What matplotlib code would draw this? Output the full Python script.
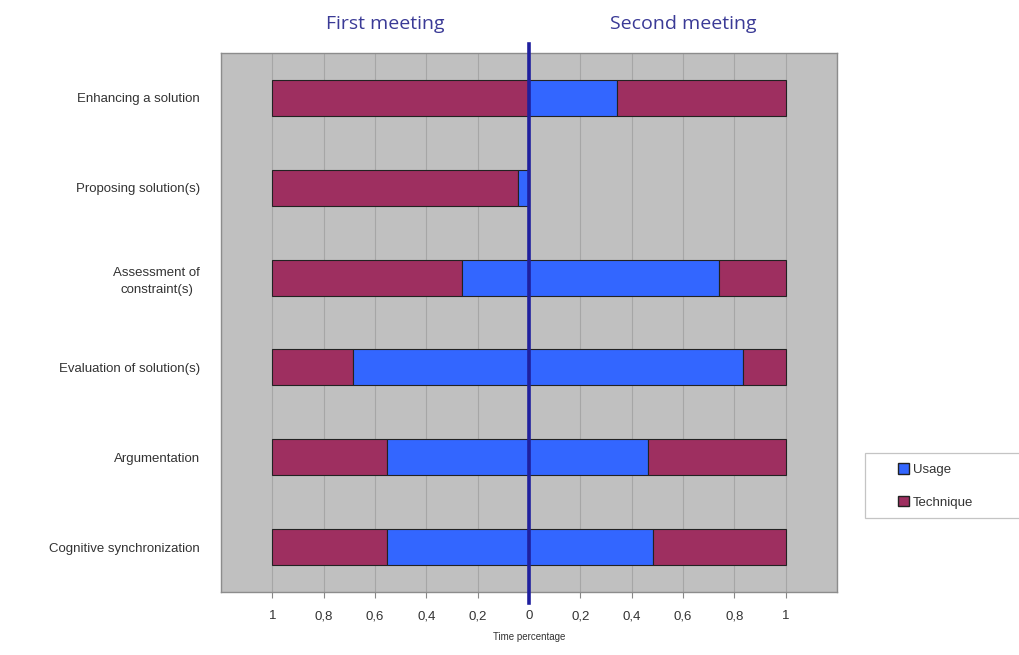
import numpy as np
import matplotlib.pyplot as plt
from matplotlib.patches import Patch, Rectangle

categories = ["Enhancing a solution", "Proposing solution(s)", "Assessment of\nconstraint(s)",
              "Evaluation of solution(s)", "Argumentation", "Cognitive synchronization"]
# share of usage time in each meeting (rest of the bar is technique)
usage_first = [0.0, 0.043, 0.26, 0.686, 0.554, 0.554]
usage_second = [0.343, 0.0, 0.74, 0.834, 0.464, 0.483]
has_second = [True, False, True, True, True, True]

tick_vals = [-1, -0.8, -0.6, -0.4, -0.2, 0, 0.2, 0.4, 0.6, 0.8, 1]
tick_labels = ["1", "0,8", "0,6", "0,4", "0,2", "0", "0,2", "0,4", "0,6", "0,8", "1"]

c_usage = "#3366ff"
c_tech = "#9e2f60"

plt.rcParams['font.family'] = ['Liberation Sans', 'DejaVu Sans']

fig = plt.figure(figsize=(10.19, 6.55), dpi=100)
ax = fig.add_axes([221 / 1019, 63 / 655, 616 / 1019, 539 / 655])
ax.set_facecolor("#c0c0c0")

y = np.arange(len(categories))
h = 0.40
uf = np.array(usage_first)
us = np.array(usage_second)
ec = "#222222"

# first meeting, drawn to the left of zero
ax.barh(y, -(1 - uf), left=-uf, height=h, color=c_tech, edgecolor=ec, linewidth=0.8, zorder=3)
ax.barh(y, -uf, left=0, height=h, color=c_usage, edgecolor=ec, linewidth=0.8, zorder=3)
# second meeting, to the right
for i in range(len(categories)):
    if not has_second[i]:
        continue
    ax.barh(y[i], us[i], left=0, height=h, color=c_usage, edgecolor=ec, linewidth=0.8, zorder=3)
    ax.barh(y[i], 1 - us[i], left=us[i], height=h, color=c_tech, edgecolor=ec, linewidth=0.8, zorder=3)

ax.set_xlim(-1.2, 1.2)
ax.set_ylim(len(categories) - 0.5, -0.5)
for gx in np.arange(-1.2, 1.21, 0.2):
    ax.axvline(gx, color="#a6a6a6", linewidth=0.8, zorder=1)

ax.set_xticks(tick_vals)
ax.set_xticklabels(tick_labels, fontsize=9.5, color="#333333")
ax.tick_params(axis="x", length=4, color="#888888", pad=9)
ax.set_yticks(y)
ax.set_yticklabels(categories, fontsize=9.5, color="#333333", multialignment="center", linespacing=1.6)
ax.tick_params(axis="y", length=0, pad=15)
for s in ax.spines.values():
    s.set_color("#8c8c8c")
    s.set_linewidth(1)

ax.set_xlabel("Time percentage", fontsize=7, color="#333333", labelpad=7)

# zero line sticking out of the plot
ax.axvline(0, ymin=-0.02, ymax=1.017, color="#1f1f9e", linewidth=2.6, zorder=5, clip_on=False)

fig.text(385 / 1019, 1 - 24 / 655, "First meeting", ha="center", va="center",
         fontsize=14, color="#3a3a96", family=["Open Sans", "DejaVu Sans"])
fig.text(683 / 1019, 1 - 24 / 655, "Second meeting", ha="center", va="center",
         fontsize=14, color="#3a3a96", family=["Open Sans", "DejaVu Sans"])

# legend box runs off the right edge like in the original
fig.patches.append(Rectangle((865 / 1019, 1 - 518 / 655), 0.2, 65 / 655, transform=fig.transFigure,
                             facecolor="white", edgecolor="#c4c4c4", linewidth=0.9, zorder=1))
handles = [Patch(facecolor=c_usage, edgecolor="#222222", label="Usage"),
           Patch(facecolor=c_tech, edgecolor="#222222", label="Technique")]
leg = fig.legend(handles=handles, loc="center left", bbox_to_anchor=(898 / 1019, 1 - 486 / 655),
                 fontsize=9.5, frameon=False, handlelength=0.8, handleheight=0.8,
                 handletextpad=0.3, borderpad=0, labelspacing=1.5, borderaxespad=0)
for t in leg.get_texts():
    t.set_color("#333333")

fig.savefig("out.png", dpi=100)
